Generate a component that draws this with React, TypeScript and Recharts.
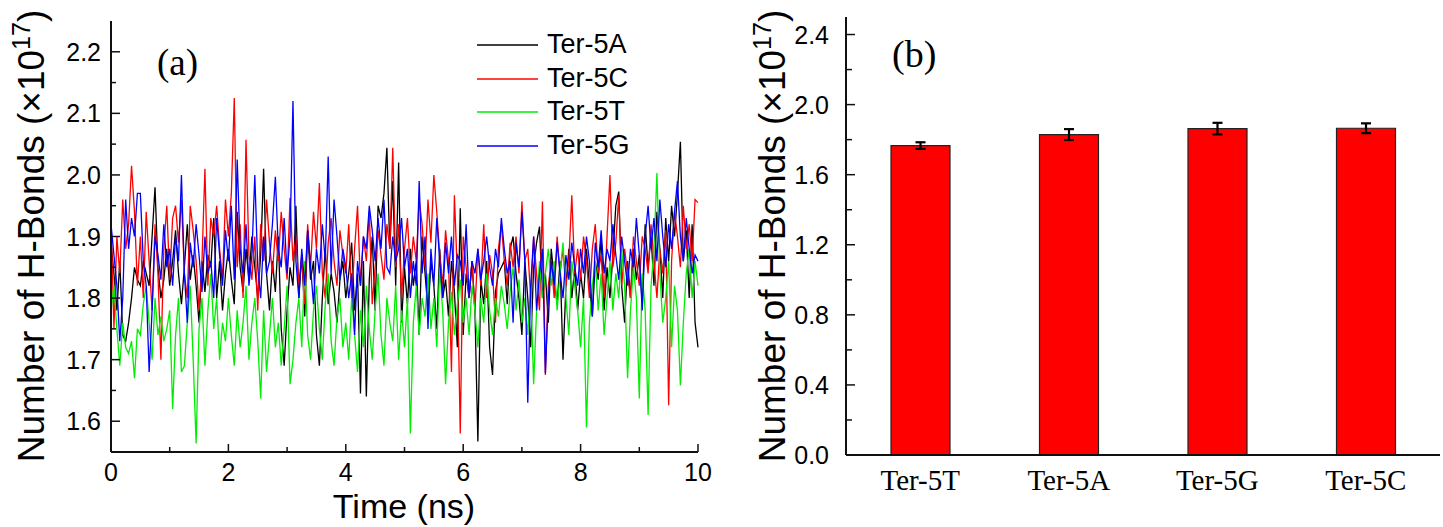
import React from 'react';
import { LineChart, Line, XAxis, YAxis, BarChart, Bar, ErrorBar, Legend } from 'recharts';

const SANS = '"Liberation Sans", Arial, sans-serif';
const SERIF = '"Liberation Serif", "Times New Roman", serif';

// ---- Panel (a): H-bond count vs time, one value every 0.05 ns ----
const timeStepNs = 0.05;

const ter5A = [
  1.89, 1.84, 1.78, 1.86, 1.74, 1.73, 1.76, 1.80, 1.85, 1.83, 1.82, 1.86, 1.84, 1.82, 1.90, 1.98, 1.85, 1.80, 1.83, 1.88,
  1.82, 1.86, 1.91, 1.84, 1.79, 1.85, 1.92, 1.83, 1.87, 1.82, 1.76, 1.86, 1.81, 1.87, 1.85, 1.93, 1.80, 1.86, 1.78, 1.84,
  1.88, 1.83, 1.79, 1.94, 1.85, 1.81, 1.88, 1.83, 1.90, 1.85, 1.80, 1.87, 2.01, 1.84, 1.78, 1.86, 1.81, 1.90, 1.75, 1.69,
  1.78, 1.85, 1.82, 1.95, 1.80, 1.87, 1.77, 1.91, 1.83, 1.86, 1.74, 1.69, 1.80, 1.88, 1.79, 1.84, 1.81, 1.76, 1.83, 1.86,
  1.80, 1.84, 1.89, 1.78, 1.84, 1.645, 1.86, 1.64, 1.83, 1.90, 1.78, 1.95, 1.93, 1.97, 2.044, 1.88, 1.99, 1.82, 2.02, 1.76,
  1.85, 1.79, 1.88, 1.82, 1.86, 1.74, 1.90, 1.84, 1.78, 1.86, 1.82, 1.75, 1.88, 1.80, 1.83, 1.77, 1.86, 1.81, 1.72, 1.946,
  1.74, 1.84, 1.80, 1.86, 1.78, 1.567, 1.83, 1.79, 1.86, 1.72, 1.675, 1.81, 1.84, 1.85, 1.86, 1.79, 1.88, 1.90, 1.84, 1.80,
  1.74, 1.86, 1.80, 1.72, 1.85, 1.89, 1.916, 1.80, 1.84, 1.76, 1.88, 1.83, 1.79, 1.86, 1.70, 1.82, 1.88, 1.80, 1.85, 1.78,
  1.84, 1.80, 1.88, 1.82, 1.77, 1.86, 1.83, 1.90, 1.78, 1.85, 1.80, 1.87, 1.95, 1.973, 1.82, 1.76, 1.86, 1.80, 1.88, 1.83,
  1.87, 1.79, 1.92, 1.85, 1.90, 1.82, 1.94, 1.88, 1.80, 1.93, 1.86, 1.95, 1.90, 1.97, 2.054, 1.86, 1.91, 1.80, 1.92, 1.76,
  1.72,
];

const ter5C = [
  1.93, 1.75, 1.90, 1.84, 1.96, 1.88, 1.92, 2.015, 1.94, 1.82, 1.90, 1.80, 1.94, 1.86, 1.78, 1.92, 1.84, 1.70, 1.88, 1.95,
  1.83, 1.93, 1.95, 1.89, 1.96, 1.84, 1.80, 1.95, 1.91, 1.86, 1.78, 1.86, 2.01, 1.82, 1.93, 1.90, 1.95, 1.88, 1.83, 1.96,
  1.90, 1.97, 2.125, 1.85, 1.92, 1.80, 2.057, 1.87, 1.83, 1.90, 1.78, 1.92, 1.86, 1.96, 1.89, 1.84, 1.91, 1.86, 1.94, 1.88,
  1.83, 1.963, 1.86, 1.90, 1.82, 1.87, 1.79, 1.92, 1.85, 1.94, 1.88, 1.987, 1.84, 1.80, 1.89, 1.93, 1.86, 1.82, 1.91, 1.87,
  1.84, 1.92, 1.80, 1.88, 1.95, 1.82, 1.90, 1.86, 1.94, 1.79, 1.85, 1.91, 1.87, 1.83, 1.92, 1.88, 2.044, 1.85, 1.92, 1.80,
  1.88, 1.93, 1.84, 1.90, 1.86, 1.96, 1.92, 1.85, 1.96, 1.89, 2.00, 1.94, 1.87, 1.82, 1.91, 1.86, 1.68, 1.967, 1.84, 1.58,
  1.90, 1.85, 1.80, 1.86, 1.78, 1.88, 1.82, 1.92, 1.80, 1.87, 1.84, 1.76, 1.88, 1.92, 1.86, 1.82, 1.89, 1.85, 1.90, 1.84,
  1.957, 1.86, 1.88, 1.80, 1.90, 1.84, 1.78, 1.957, 1.675, 1.82, 1.86, 1.80, 1.90, 1.84, 1.88, 1.82, 1.86, 1.967, 1.84, 1.88,
  1.83, 1.90, 1.86, 1.80, 1.88, 1.92, 1.84, 1.87, 1.80, 1.90, 2.00, 1.85, 1.89, 1.967, 1.82, 1.88, 1.84, 1.80, 1.90, 1.86,
  1.82, 1.90, 1.88, 1.84, 1.92, 1.86, 1.80, 1.88, 1.84, 1.91, 1.626, 1.86, 1.94, 1.90, 1.85, 1.95, 1.88, 1.92, 1.86, 1.96,
  1.955,
];

const ter5T = [
  1.78, 1.82, 1.75, 1.69, 1.76, 1.72, 1.71, 1.73, 1.67, 1.75, 1.74, 1.79, 1.82, 1.76, 1.70, 1.80, 1.74, 1.77, 1.73, 1.75,
  1.78, 1.62, 1.74, 1.80, 1.68, 1.69, 1.76, 1.82, 1.70, 1.564, 1.75, 1.80, 1.69, 1.78, 1.84, 1.75, 1.80, 1.70, 1.76, 1.73,
  1.80, 1.74, 1.69, 1.78, 1.72, 1.76, 1.82, 1.70, 1.76, 1.80, 1.73, 1.637, 1.78, 1.68, 1.74, 1.80, 1.72, 1.76, 1.69, 1.75,
  1.82, 1.66, 1.70, 1.76, 1.80, 1.72, 1.86, 1.74, 1.70, 1.78, 1.82, 1.75, 1.70, 1.79, 1.84, 1.73, 1.69, 1.77, 1.80, 1.72,
  1.76, 1.70, 1.80, 1.74, 1.68, 1.78, 1.72, 1.82, 1.75, 1.70, 1.78, 1.84, 1.74, 1.69, 1.80, 1.76, 1.73, 1.82, 1.70, 1.78,
  1.72, 1.80, 1.58, 1.76, 1.82, 1.74, 1.80, 1.77, 1.84, 1.75, 1.80, 1.72, 1.85, 1.78, 1.66, 1.76, 1.81, 1.74, 1.79, 1.83,
  1.76, 1.80, 1.74, 1.82, 1.78, 1.72, 1.80, 1.76, 1.84, 1.78, 1.74, 1.80, 1.77, 1.82, 1.79, 1.75, 1.81, 1.85, 1.78, 1.83,
  1.76, 1.80, 1.74, 1.82, 1.66, 1.78, 1.86, 1.80, 1.84, 1.88, 1.82, 1.86, 1.78, 1.84, 1.89, 1.80, 1.74, 1.86, 1.82, 1.78,
  1.72, 1.80, 1.59, 1.76, 1.82, 1.86, 1.78, 1.84, 1.74, 1.80, 1.86, 1.78, 1.84, 1.80, 1.88, 1.82, 1.67, 1.78, 1.85, 1.80,
  1.637, 1.84, 1.78, 1.61, 1.82, 1.88, 2.003, 1.84, 1.76, 1.80, 1.86, 1.72, 1.82, 1.78, 1.658, 1.76, 1.84, 1.88, 1.80, 1.86,
  1.82,
];

const ter5G = [
  1.92, 1.87, 1.82, 1.73, 1.80, 1.96, 1.88, 1.93, 1.90, 1.97, 1.97, 1.86, 1.82, 1.68, 1.78, 1.90, 1.87, 1.83, 1.92, 1.85,
  1.88, 1.82, 1.90, 1.86, 2.00, 1.84, 1.76, 1.89, 1.85, 1.92, 1.87, 1.81, 1.90, 1.84, 1.86, 1.80, 1.93, 1.87, 1.82, 1.91,
  1.86, 1.95, 1.83, 2.025, 1.88, 1.84, 1.92, 1.82, 1.87, 2.00, 1.85, 1.80, 1.90, 1.84, 1.86, 1.92, 1.997, 1.88, 1.85, 1.93,
  1.84, 1.90, 2.12, 1.86, 1.80, 1.88, 1.82, 1.91, 1.85, 1.79, 1.88, 1.84, 1.92, 1.86, 2.03, 1.84, 1.96, 1.90, 1.83, 1.88,
  1.85, 1.80, 1.84, 1.74, 1.86, 1.82, 1.90, 1.88, 1.95, 1.91, 1.86, 1.93, 1.88, 1.96, 1.85, 1.84, 1.90, 1.86, 1.88, 1.93,
  1.85, 1.88, 1.80, 1.86, 1.82, 1.99, 1.84, 1.90, 1.75, 1.88, 1.82, 1.93, 1.86, 1.80, 1.89, 1.84, 1.90, 1.82, 1.87, 1.86,
  1.82, 1.92, 1.80, 1.86, 1.84, 1.88, 1.83, 1.86, 1.90, 1.85, 1.82, 1.88, 1.85, 1.93, 1.88, 1.84, 1.86, 1.76, 1.89, 1.85,
  1.94, 1.86, 1.63, 1.82, 1.90, 1.78, 1.84, 1.88, 1.678, 1.80, 1.86, 1.82, 1.89, 1.84, 1.80, 1.87, 1.83, 1.89, 1.85, 1.82,
  1.88, 1.84, 1.90, 1.86, 1.77, 1.89, 1.85, 1.91, 1.84, 1.88, 1.86, 1.92, 1.87, 1.83, 1.90, 1.86, 1.82, 1.88, 1.85, 1.93,
  1.87, 1.78, 1.90, 1.95, 1.88, 1.93, 1.86, 1.96, 1.90, 1.85, 1.92, 1.88, 1.94, 1.99, 1.90, 1.86, 1.93, 1.88, 1.84, 1.87,
  1.86,
];

const timeNs = ter5A.map((_, i) => Math.round(i * timeStepNs * 100) / 100);
const lineData = timeNs.map((t, i) => ({ t, A: ter5A[i], C: ter5C[i], T: ter5T[i], G: ter5G[i] }));

const xTicksA = [0, 1, 2, 3, 4, 5, 6, 7, 8, 9, 10];
const yTicksA = [1.6, 1.65, 1.7, 1.75, 1.8, 1.85, 1.9, 1.95, 2.0, 2.05, 2.1, 2.15, 2.2];
const legendOrder = ['Ter-5A', 'Ter-5C', 'Ter-5T', 'Ter-5G'];

// ---- Panel (b): mean H-bonds with error bars ----
const barCategories = ['Ter-5T', 'Ter-5A', 'Ter-5G', 'Ter-5C'];
const barMeans = [1.766, 1.829, 1.863, 1.865];
const barErrors = [0.019, 0.031, 0.033, 0.028];
const yTicksB = [0, 0.2, 0.4, 0.6, 0.8, 1.0, 1.2, 1.4, 1.6, 1.8, 2.0, 2.2, 2.4];
const barData = barCategories.map((name, i) => ({ name, mean: barMeans[i], err: barErrors[i] }));

const isMajor = (v: number, step: number) => Math.abs(v / step - Math.round(v / step)) < 1e-6;

const YTickA = (props: any) => {
  const { x, y, payload } = props;
  const v = payload.value as number;
  const major = isMajor(v, 0.1);
  return (
    <g>
      <line x1={x} x2={x + (major ? 9 : 5)} y1={y} y2={y} stroke="#111" strokeWidth={1.5} />
      {major && (
        <text x={x - 10} y={y} dy="0.36em" textAnchor="end" fontFamily={SANS} fontSize={25} fill="#000">
          {v.toFixed(1)}
        </text>
      )}
    </g>
  );
};

const XTickA = (props: any) => {
  const { x, y, payload } = props;
  const v = payload.value as number;
  const major = isMajor(v, 2);
  return (
    <g>
      <line x1={x} x2={x} y1={y} y2={y - (major ? 8 : 5)} stroke="#111" strokeWidth={1.5} />
      {major && (
        <text x={x} y={y + 29} textAnchor="middle" fontFamily={SANS} fontSize={25} fill="#000">
          {String(v)}
        </text>
      )}
    </g>
  );
};

const YTickB = (props: any) => {
  const { x, y, payload } = props;
  const v = payload.value as number;
  const major = isMajor(v, 0.4);
  return (
    <g>
      <line x1={x} x2={x + (major ? 9 : 6)} y1={y} y2={y} stroke="#111" strokeWidth={1.5} />
      {major && (
        <text x={x - 17} y={y} dy="0.36em" textAnchor="end" fontFamily={SANS} fontSize={25} fill="#000">
          {v.toFixed(1)}
        </text>
      )}
    </g>
  );
};

const XTickB = (props: any) => {
  const { x, y, payload } = props;
  return (
    <text x={x} y={y + 35} textAnchor="middle" fontFamily={SERIF} fontSize={29} fill="#000">
      {payload.value}
    </text>
  );
};

const LegendA = (props: any) => {
  const items = [...(props.payload || [])].sort(
    (a: any, b: any) => legendOrder.indexOf(a.value) - legendOrder.indexOf(b.value)
  );
  return (
    <div>
      {items.map((it: any) => (
        <div key={it.value} style={{ display: 'flex', alignItems: 'center', height: 33.7 }}>
          <svg width={61} height={4} style={{ display: 'block' }}>
            <line x1={0} x2={61} y1={2} y2={2} stroke={it.color} strokeWidth={1.5} />
          </svg>
          <span style={{ marginLeft: 9, fontFamily: SANS, fontSize: 27, color: '#000', lineHeight: '33.7px' }}>
            {it.value}
          </span>
        </div>
      ))}
    </div>
  );
};

const axisStroke = { stroke: '#111', strokeWidth: 2 };

const YTitle = ({ x, y }: { x: number; y: number }) => (
  <text
    x={x}
    y={y}
    transform={`rotate(-90 ${x} ${y})`}
    textAnchor="middle"
    fontFamily={SANS}
    fontSize={37}
    fill="#000"
  >
    Number of H-Bonds (×10
    <tspan dy={-14} fontSize={25}>17</tspan>
    <tspan dy={14}>)</tspan>
  </text>
);

export default function App() {
  return (
    <div style={{ position: 'absolute', left: 0, top: 0, width: 1443, height: 527, background: '#fff' }}>
      <div style={{ position: 'absolute', left: 0, top: 0 }}>
        <LineChart width={720} height={527} data={lineData} margin={{ top: 21, right: 22, bottom: 35, left: 0 }}>
          <XAxis
            dataKey="t"
            type="number"
            domain={[0, 10]}
            ticks={xTicksA}
            interval={0}
            tickLine={false}
            tickSize={0}
            tickMargin={0}
            height={40}
            axisLine={axisStroke}
            tick={<XTickA />}
          />
          <XAxis xAxisId="top" orientation="top" type="number" domain={[0, 10]} height={0} ticks={[]} tick={false} tickLine={false} axisLine={axisStroke} />
          <YAxis
            type="number"
            domain={[1.55, 2.25]}
            ticks={yTicksA}
            interval={0}
            tickLine={false}
            tickSize={0}
            tickMargin={0}
            width={111}
            axisLine={axisStroke}
            tick={<YTickA />}
            allowDataOverflow
          />
          <YAxis yAxisId="right" orientation="right" type="number" domain={[1.55, 2.25]} width={0} ticks={[]} tick={false} tickLine={false} axisLine={axisStroke} />
          <Legend
            layout="vertical"
            verticalAlign="middle"
            align="center"
            content={<LegendA />}
            wrapperStyle={{ left: 477, top: 28, width: 200, height: 140 }}
          />
          <Line type="linear" dataKey="A" name="Ter-5A" stroke="#000000" strokeWidth={1.3} dot={false} isAnimationActive={false} />
          <Line type="linear" dataKey="C" name="Ter-5C" stroke="#ff0000" strokeWidth={1.3} dot={false} isAnimationActive={false} />
          <Line type="linear" dataKey="T" name="Ter-5T" stroke="#00ee00" strokeWidth={1.3} dot={false} isAnimationActive={false} />
          <Line type="linear" dataKey="G" name="Ter-5G" stroke="#0000ff" strokeWidth={1.3} dot={false} isAnimationActive={false} />
        </LineChart>
      </div>

      <div style={{ position: 'absolute', left: 730, top: 0 }}>
        <BarChart width={713} height={527} data={barData} margin={{ top: 17, right: 3, bottom: 22, left: 0 }}>
          <XAxis dataKey="name" type="category" tickLine={false} tickSize={0} tickMargin={0} height={50} axisLine={axisStroke} tick={<XTickB />} interval={0} />
          <XAxis xAxisId="top" orientation="top" dataKey="name" height={0} tick={false} tickLine={false} axisLine={axisStroke} />
          <YAxis
            type="number"
            domain={[0, 2.5]}
            ticks={yTicksB}
            interval={0}
            tickLine={false}
            tickSize={0}
            tickMargin={0}
            width={116}
            axisLine={axisStroke}
            tick={<YTickB />}
          />
          <YAxis yAxisId="right" orientation="right" type="number" domain={[0, 2.5]} width={0} ticks={[]} tick={false} tickLine={false} axisLine={axisStroke} />
          <Bar dataKey="mean" fill="#ff0000" stroke="#222" strokeWidth={1.2} barSize={59} isAnimationActive={false}>
            <ErrorBar dataKey="err" width={5} stroke="#000" strokeWidth={2.2} isAnimationActive={false} />
          </Bar>
        </BarChart>
      </div>

      <svg width={1443} height={527} style={{ position: 'absolute', left: 0, top: 0, pointerEvents: 'none' }}>
        <YTitle x={44} y={236} />
        <text x={404} y={518} textAnchor="middle" fontFamily={SANS} fontSize={34} fill="#000">
          Time (ns)
        </text>
        <text x={157} y={75} fontFamily={SERIF} fontSize={37} fill="#000">
          (a)
        </text>
        <YTitle x={785} y={236} />
        <text x={892} y={67} fontFamily={SERIF} fontSize={38} fill="#000">
          (b)
        </text>
      </svg>
    </div>
  );
}
